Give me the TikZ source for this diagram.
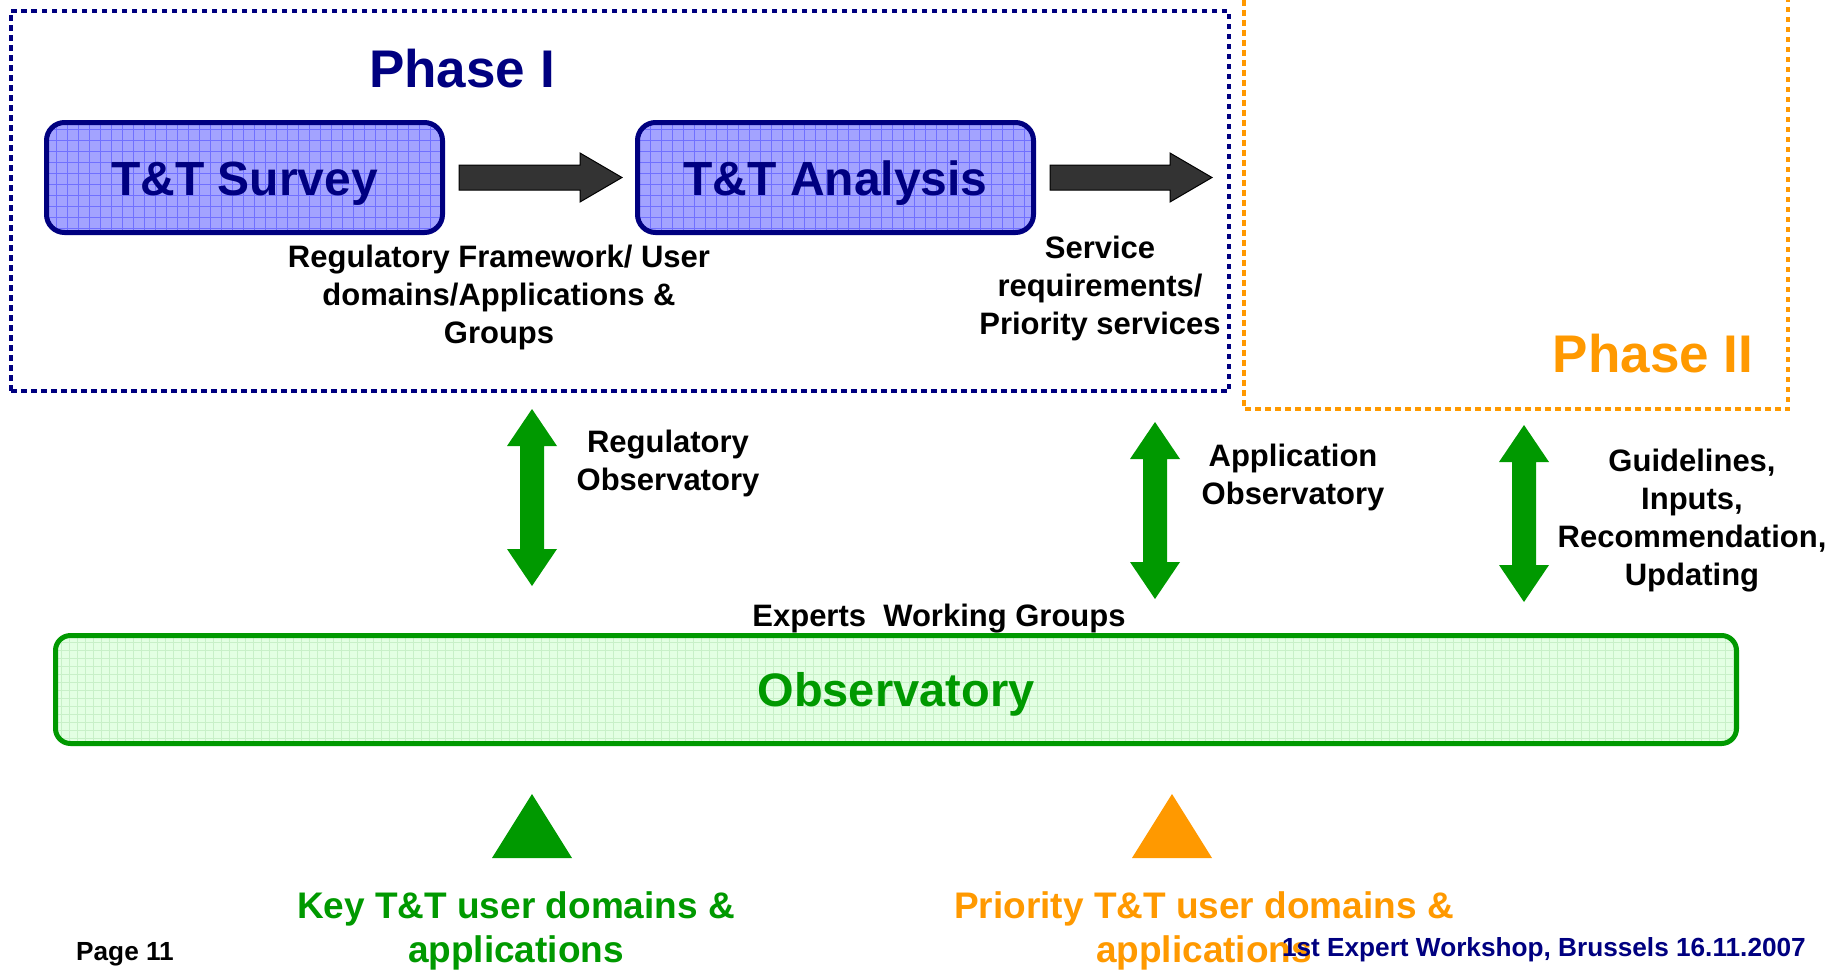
\documentclass[tikz,border=0pt]{standalone}
\usepackage{fontspec}
\setmainfont{Liberation Sans}
\usetikzlibrary{calc}
\definecolor{navyc}{HTML}{000080}
\definecolor{greenc}{HTML}{009900}
\definecolor{orangec}{HTML}{FF9900}
\definecolor{boxblue}{HTML}{A3A3FF}
\definecolor{gridblue}{HTML}{7070FF}
\definecolor{boxgreen}{HTML}{E3FFE3}
\definecolor{gridgreen}{HTML}{C8F0C8}
\definecolor{arrowgray}{HTML}{333333}
\newcommand\greendbl[2]{%
  \fill[greenc] (#1) -- ($(#1)+(25,37)$) -- ($(#1)+(12,37)$) -- ($(#2)+(12,-37)$)
    -- ($(#2)+(25,-37)$) -- (#2) -- ($(#2)+(-25,-37)$) -- ($(#2)+(-12,-37)$)
    -- ($(#1)+(-12,37)$) -- ($(#1)+(-25,37)$) -- cycle;}
\newcommand\grayblock[2]{%
  \filldraw[fill=arrowgray, draw=black, line width=1pt, line join=miter]
    ($(#1)+(0,-12.5)$) -- ($(#2)+(-42,-12.5)$) -- ($(#2)+(-42,-24.5)$) -- (#2)
    -- ($(#2)+(-42,24.5)$) -- ($(#2)+(-42,12.5)$) -- ($(#1)+(0,12.5)$) -- cycle;}
\begin{document}
\begin{tikzpicture}[x=1pt,y=-1pt,
  txt/.style={font=\bfseries\fontsize{31}{38}\selectfont, align=center, inner sep=0pt, anchor=base},
  big/.style={font=\bfseries\fontsize{53}{53}\selectfont, inner sep=0pt, anchor=base},
  bottomtxt/.style={font=\bfseries\fontsize{37}{44}\selectfont, align=center, inner sep=0pt, anchor=base},
  foot/.style={font=\bfseries\fontsize{26.2}{30}\selectfont, inner sep=0pt},
  ttbox/.style={draw=navyc, line width=5pt, rounded corners=18pt, fill=boxblue,
    minimum width=396pt, minimum height=110pt, inner sep=0pt, text=navyc,
    font=\bfseries\fontsize{48}{48}\selectfont, text height=36pt, text depth=0pt,
    path picture={\draw[gridblue, line width=0.7pt, step=11pt]
      (path picture bounding box.south west) grid (path picture bounding box.north east);}},
  obsbox/.style={draw=greenc, line width=5pt, rounded corners=15pt, fill=boxgreen,
    minimum width=1681pt, minimum height=108pt, inner sep=0pt, text=greenc,
    font=\bfseries\fontsize{47}{47}\selectfont, text height=34pt, text depth=0pt,
    path picture={\draw[gridgreen, line width=0.6pt, step=8pt]
      (path picture bounding box.south west) grid (path picture bounding box.north east);}},
  phaseone/.style={draw=navyc, line width=4.8pt, dash pattern=on 5.5pt off 4.5pt,
    minimum width=1218pt, minimum height=380pt, inner sep=0pt},
  phasetwo/.style={draw=orangec, line width=4pt, dash pattern=on 5.5pt off 4.5pt}
]
\useasboundingbox (0,0) rectangle (1845,970);

% Phase frames
\node[phaseone] (phaseI) at (620,201) {};
\draw[phasetwo] (1244,-20) -- (1244,409) -- (1788,409) -- (1788,-20);

% Phase titles
\node[big, text=navyc] (phaseItxt) at (462,87) {Phase I};
\node[big, text=orangec] (phaseIItxt) at (1653,372) {Phase II};

% T&T boxes
\node[ttbox] (survey) at (244.5,177.5) {T\&T Survey};
\node[ttbox] (analysis) at (835.5,177.5) {T\&T Analysis};

% gray block arrows
\coordinate (a1s) at ($(survey.east)+(14,0)$);
\coordinate (a1e) at ($(analysis.west)+(-13,0)$);
\coordinate (a2s) at ($(analysis.east)+(14,0)$);
\coordinate (a2e) at ($(analysis.east)+(176,0)$);
\grayblock{a1s}{a1e}
\grayblock{a2s}{a2e}

% texts in phase I (base = baseline of last line)
\node[txt] (regfw) at (499,343) {Regulatory Framework/ User\\domains/Applications \&\\Groups};
\node[txt] (service) at (1100,334) {Service\\requirements/\\Priority services};

% Observatory
\node[obsbox] (obs) at (896,689.5) {Observatory};
\node[txt] (experts) at (939,626) {Experts~ Working Groups};

% green double arrows
\coordinate (g1t) at (532,409); \coordinate (g1b) at (532,586);
\coordinate (g2t) at (1155,422); \coordinate (g2b) at (1155,599);
\coordinate (g3t) at (1524,425); \coordinate (g3b) at (1524,602);
\greendbl{g1t}{g1b}
\greendbl{g2t}{g2b}
\greendbl{g3t}{g3b}

\node[txt] (regobs) at (668,490) {Regulatory\\Observatory};
\node[txt] (appobs) at (1293,504) {Application\\Observatory};
\node[txt] (guide) at (1692,585) {Guidelines,\\Inputs,\\Recommendation,\\Updating};

% triangles
\fill[greenc] (492,858) -- (572,858) -- (532,794) -- cycle;
\fill[orangec] (1132,858) -- (1212,858) -- (1172,794) -- cycle;

\node[bottomtxt, text=greenc] (keytxt) at (516,962) {Key T\&T user domains \&\\applications};
\node[bottomtxt, text=orangec] (priotxt) at (1204,962) {Priority T\&T user domains \&\\applications};

% footer
\node[foot, anchor=base west] (page) at (76,960) {Page 11};
\node[foot, anchor=base east, text=navyc] (workshop) at (1806,956) {1st Expert Workshop, Brussels 16.11.2007};
\end{tikzpicture}
\end{document}
